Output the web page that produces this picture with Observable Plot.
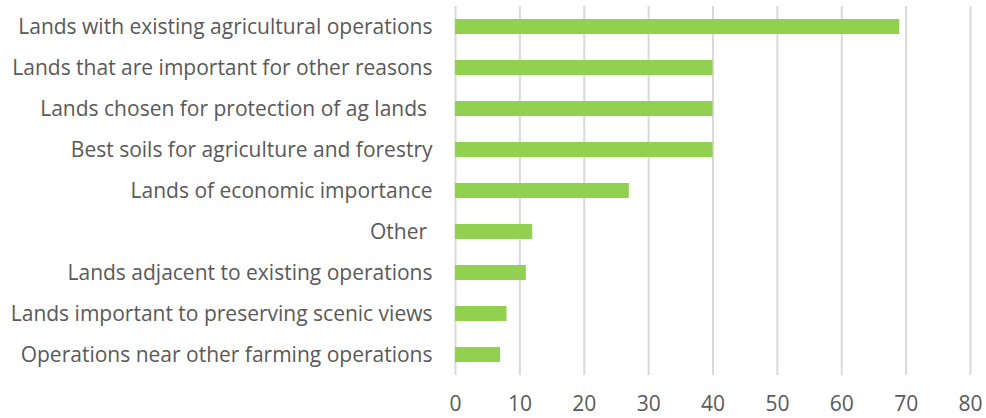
<!DOCTYPE html>
<html>
<head>
<meta charset="utf-8">
<script src="https://cdn.jsdelivr.net/npm/d3@7"></script>
<script src="https://cdn.jsdelivr.net/npm/@observablehq/plot@0.6"></script>
<style>
  html, body { margin: 0; padding: 0; background: #fff; }
  #chart svg { display: block; }
</style>
</head>
<body>
<div id="chart"></div>
<script>
const categories = [
  "Lands with existing agricultural operations",
  "Lands that are important for other reasons",
  "Lands chosen for protection of ag lands\u00A0",
  "Best soils for agriculture and forestry",
  "Lands of economic importance",
  "Other\u00A0",
  "Lands adjacent to existing operations",
  "Lands important to preserving scenic views",
  "Operations near other farming operations"
];
const values = [69, 40, 40, 40, 27, 12, 11, 8, 7];
const xTicks = [0, 10, 20, 30, 40, 50, 60, 70, 80];

const data = categories.map((c, i) => ({category: c, value: values[i]}));

const chart = Plot.plot({
  width: 986,
  height: 418,
  marginLeft: 455,
  marginRight: 16,
  marginTop: 6,
  marginBottom: 43,
  style: {fontFamily: "'Open Sans', sans-serif", fontSize: "21px", color: "#595959", background: "#fff"},
  x: {domain: [0, 80], ticks: xTicks},
  y: {domain: categories, paddingInner: 0.645, paddingOuter: 0.3225},
  marks: [
    Plot.ruleX(xTicks, {stroke: "#d9d9d9", strokeWidth: 2}),
    Plot.barX(data, {x: "value", y: "category", fill: "#92D050"}),
    Plot.axisY({tickSize: 0, tickPadding: 23, label: null, fontSize: 21, fill: "#595959"}),
    Plot.axisX({ticks: xTicks, tickSize: 0, tickPadding: 21, label: null, fontSize: 21, fill: "#595959"})
  ]
});
document.getElementById("chart").appendChild(chart);
</script>
</body>
</html>
